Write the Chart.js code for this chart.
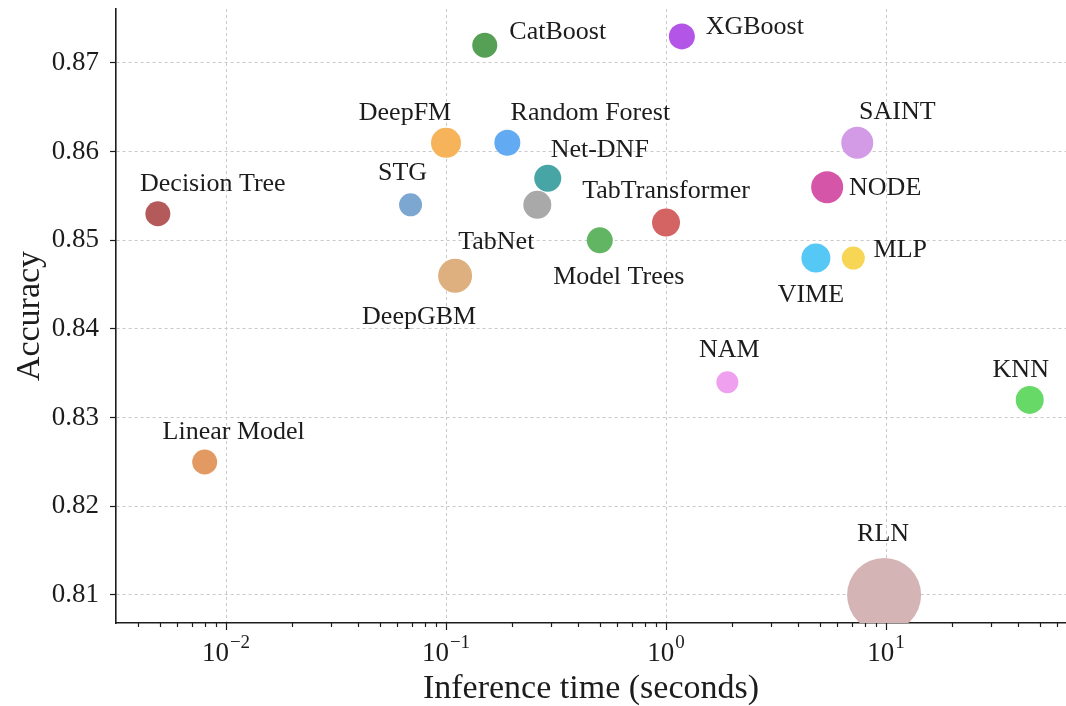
<!DOCTYPE html>
<html>
<head>
<meta charset="utf-8">
<script src="https://cdn.jsdelivr.net/npm/chart.js@4.4.1/dist/chart.umd.min.js"></script>
<style>
  html, body { margin: 0; padding: 0; background: #ffffff; }
  #wrap { width: 1066px; height: 706px; }
</style>
</head>
<body>
<div id="wrap"><canvas id="chart" width="1066" height="706"></canvas></div>
<script>
// Models compared: inference time (s) vs. accuracy, bubble radius in px
const models = ['Decision Tree', 'Linear Model', 'STG', 'DeepFM', 'DeepGBM', 'CatBoost',
  'Random Forest', 'Net-DNF', 'TabNet', 'Model Trees', 'TabTransformer', 'XGBoost',
  'NAM', 'SAINT', 'NODE', 'VIME', 'MLP', 'KNN', 'RLN'];
const inferenceTime = [0.0049, 0.008, 0.069, 0.1, 0.11, 0.15,
  0.19, 0.29, 0.26, 0.5, 1.0, 1.18,
  1.9, 7.4, 5.4, 4.8, 7.1, 45, 9.8];
const accuracy = [0.853, 0.825, 0.854, 0.861, 0.846, 0.872,
  0.861, 0.857, 0.854, 0.850, 0.852, 0.873,
  0.834, 0.861, 0.856, 0.848, 0.848, 0.832, 0.810];
const bubbleRadius = [12.5, 12.5, 11.5, 15, 17, 12.5,
  13, 13.5, 14, 13, 14, 13,
  11, 16, 16, 14.5, 11.5, 14, 37];
const yTickValues = [0.81, 0.82, 0.83, 0.84, 0.85, 0.86, 0.87];
const xMajorTickValues = [0.01, 0.1, 1, 10];

// Styling
const colors = ['#b45a5a', '#e39a62', '#7ba7d1', '#f7b35a', '#deb080', '#55a055',
  '#62aaf2', '#48a5a5', '#a9a9a9', '#62b562', '#d46464', '#b355e6',
  '#efa0ef', '#d39be6', '#d556a8', '#55c8f5', '#f7d555', '#66d966', '#d4b4b4'];
// label centre relative to bubble centre (px)
const labelOffset = [[55, -30], [29, -30], [-8, -32], [-41, -30], [-36, 41], [73, -13],
  [83, -30], [52, -28], [-41, 37], [19, 37], [0, -31], [73, -9],
  [2, -32], [40, -31], [58, 1], [-5, 37], [47, -8], [-9, -30], [-1, -61]];

const SERIF = '"Liberation Serif", "Times New Roman", serif';
const INK = '#1c1c1c';
const X_MIN = Math.pow(10, -2.5);
const X_MAX = Math.pow(10, 1.818);

const isPow10 = v => Math.abs(Math.log10(v) - Math.round(Math.log10(v))) < 1e-6;

function logTicks(min, max) {
  const out = [];
  for (let e = Math.floor(Math.log10(min)); e <= Math.ceil(Math.log10(max)); e++) {
    for (let m = 1; m <= 9; m++) {
      const v = Number((m * Math.pow(10, e)).toPrecision(6));
      if (v >= min && v <= max) out.push({ value: v });
    }
  }
  return out;
}

// Log-axis tick marks (major / minor) and 10^k labels
const logAxisMarks = {
  id: 'logAxisMarks',
  afterDraw(chart) {
    const s = chart.scales.x;
    const ctx = chart.ctx;
    const y0 = s.top;
    ctx.save();
    ctx.strokeStyle = INK;
    ctx.lineWidth = 1.2;
    s.ticks.forEach(t => {
      const x = Math.round(s.getPixelForValue(t.value)) + 0.5;
      ctx.beginPath();
      ctx.moveTo(x, y0);
      ctx.lineTo(x, y0 + (isPow10(t.value) ? 7 : 4));
      ctx.stroke();
    });
    ctx.fillStyle = INK;
    ctx.textBaseline = 'alphabetic';
    ctx.textAlign = 'left';
    xMajorTickValues.forEach(v => {
      const exp = Math.round(Math.log10(v));
      const base = '10';
      const sup = exp < 0 ? '\u2212' + (-exp) : String(exp);
      ctx.font = '27px ' + SERIF;
      const wb = ctx.measureText(base).width;
      ctx.font = '19px ' + SERIF;
      const ws = ctx.measureText(sup).width;
      const x = s.getPixelForValue(v);
      const start = x - (wb + ws + 1) / 2;
      ctx.font = '27px ' + SERIF;
      ctx.fillText(base, start, 661);
      ctx.font = '19px ' + SERIF;
      ctx.fillText(sup, start + wb + 1, 648);
    });
    ctx.restore();
  }
};

// Model names beside each bubble
const pointLabels = {
  id: 'pointLabels',
  afterDraw(chart) {
    const ctx = chart.ctx;
    const meta = chart.getDatasetMeta(0);
    ctx.save();
    ctx.font = '26px ' + SERIF;
    ctx.fillStyle = INK;
    ctx.textAlign = 'center';
    ctx.textBaseline = 'middle';
    meta.data.forEach((el, i) => {
      const [dx, dy] = labelOffset[i];
      ctx.fillText(models[i], el.x + dx, el.y + dy);
    });
    ctx.restore();
  }
};

new Chart(document.getElementById('chart'), {
  type: 'bubble',
  data: {
    datasets: [{
      data: models.map((m, i) => ({ x: inferenceTime[i], y: accuracy[i], r: bubbleRadius[i] })),
      backgroundColor: colors,
      borderWidth: 0,
      hoverRadius: 0
    }]
  },
  options: {
    responsive: false,
    animation: false,
    events: [],
    layout: { autoPadding: false, padding: { top: 9, left: 0, right: 0, bottom: 0 } },
    plugins: { legend: { display: false }, tooltip: { enabled: false } },
    scales: {
      x: {
        type: 'logarithmic',
        position: 'bottom',
        min: X_MIN,
        max: X_MAX,
        z: 1,
        afterBuildTicks: axis => { axis.ticks = logTicks(X_MIN, X_MAX); },
        afterFit: axis => {
          axis.height = 83;
          axis.paddingLeft = 0; axis.paddingRight = 0;
        },
        ticks: { display: false, autoSkip: false },
        grid: {
          color: c => (c.tick && isPow10(c.tick.value)) ? '#c9c9c9' : 'rgba(0,0,0,0)',
          lineWidth: 1,
          drawTicks: false
        },
        border: { display: true, color: INK, width: 1.6, dash: [3, 3] },
        title: {
          display: true,
          text: 'Inference time (seconds)',
          color: INK,
          font: { family: SERIF, size: 34, lineHeight: 1 },
          padding: { top: 0, bottom: 0 }
        }
      },
      y: {
        type: 'linear',
        position: 'left',
        min: 0.80684,
        max: 0.87609,
        z: 1,
        afterBuildTicks: axis => { axis.ticks = yTickValues.map(v => ({ value: v })); },
        afterFit: axis => {
          axis.width = 116;
          axis.paddingTop = 0; axis.paddingBottom = 0;
        },
        ticks: {
          color: INK,
          font: { family: SERIF, size: 27 },
          padding: 11,
          callback: v => Number(v).toFixed(2)
        },
        grid: {
          color: '#c9c9c9',
          lineWidth: 1,
          drawTicks: true,
          tickLength: 6,
          tickColor: INK,
          tickWidth: 1.2
        },
        border: { display: true, color: INK, width: 1.6, dash: [3, 3] },
        title: {
          display: true,
          text: 'Accuracy',
          color: INK,
          font: { family: SERIF, size: 34, lineHeight: 1 },
          padding: { top: 13, bottom: 0 }
        }
      }
    }
  },
  plugins: [logAxisMarks, pointLabels]
});
</script>
</body>
</html>
